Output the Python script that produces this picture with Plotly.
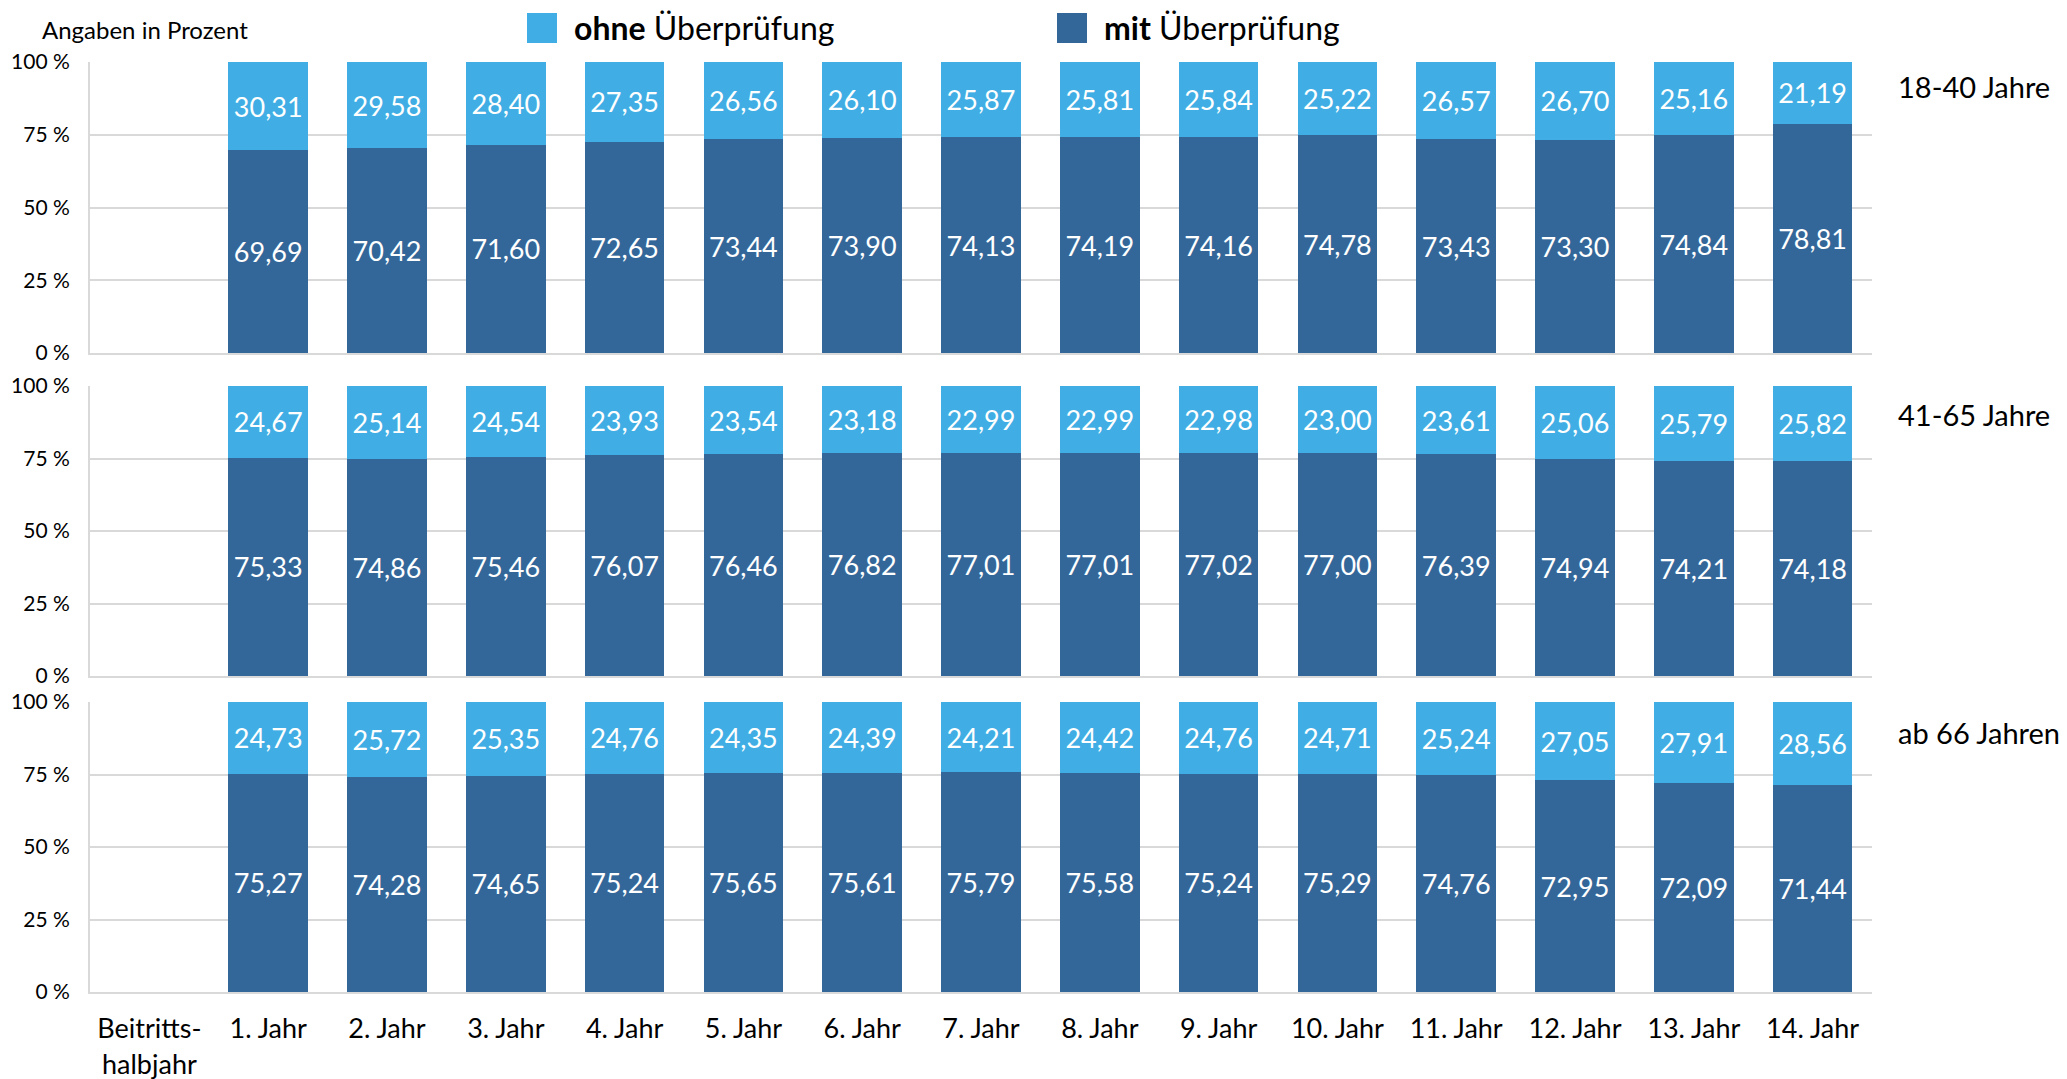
import plotly.graph_objects as go

categories = ["Beitritts-<br>halbjahr", "1. Jahr", "2. Jahr", "3. Jahr", "4. Jahr", "5. Jahr",
              "6. Jahr", "7. Jahr", "8. Jahr", "9. Jahr", "10. Jahr", "11. Jahr",
              "12. Jahr", "13. Jahr", "14. Jahr"]

ohne_18_40 = [None, 30.31, 29.58, 28.40, 27.35, 26.56, 26.10, 25.87, 25.81, 25.84, 25.22, 26.57, 26.70, 25.16, 21.19]
mit_18_40 = [None, 69.69, 70.42, 71.60, 72.65, 73.44, 73.90, 74.13, 74.19, 74.16, 74.78, 73.43, 73.30, 74.84, 78.81]

ohne_41_65 = [None, 24.67, 25.14, 24.54, 23.93, 23.54, 23.18, 22.99, 22.99, 22.98, 23.00, 23.61, 25.06, 25.79, 25.82]
mit_41_65 = [None, 75.33, 74.86, 75.46, 76.07, 76.46, 76.82, 77.01, 77.01, 77.02, 77.00, 76.39, 74.94, 74.21, 74.18]

ohne_66 = [None, 24.73, 25.72, 25.35, 24.76, 24.35, 24.39, 24.21, 24.42, 24.76, 24.71, 25.24, 27.05, 27.91, 28.56]
mit_66 = [None, 75.27, 74.28, 74.65, 75.24, 75.65, 75.61, 75.79, 75.58, 75.24, 75.29, 74.76, 72.95, 72.09, 71.44]

panel_labels = ["18-40 Jahre", "41-65 Jahre", "ab 66 Jahren"]
y_ticks = [0, 25, 50, 75, 100]
y_tick_labels = ["0 %", "25 %", "50 %", "75 %", "100 %"]

LIGHT = "#40AEE4"
DARK = "#346799"
GRID = "#D9D9D9"
FONT = "Lato"

W, H = 2067, 1079
L, R, T, B = 90, 1872, 62, 992  # plot area pixel bounds


def px_x(px):
    return (px - L) / (R - L)


def px_y(py):
    return (B - py) / (B - T)


panels = [(mit_18_40, ohne_18_40), (mit_41_65, ohne_41_65), (mit_66, ohne_66)]
pixel_domains = [(62, 353), (386, 676), (702, 992)]

fig = go.Figure()
for i, (mit, ohne) in enumerate(panels):
    suffix = "" if i == 0 else str(i + 1)
    for vals, col in ((mit, DARK), (ohne, LIGHT)):
        fig.add_trace(go.Bar(
            x=categories, y=vals, marker=dict(color=col, line=dict(width=0)),
            xaxis="x" + suffix, yaxis="y" + suffix,
            texttemplate="%{y:.2f}", textposition="inside", insidetextanchor="middle",
            textangle=0, constraintext="none",
            textfont=dict(family=FONT, size=27, color="white"),
            showlegend=False, hoverinfo="skip"))

layout = dict(
    width=W, height=H, barmode="stack", bargap=0.33,
    separators=",.",
    plot_bgcolor="white", paper_bgcolor="white",
    margin=dict(l=L, r=W - R, t=T, b=H - B, autoexpand=False),
    font=dict(family=FONT, color="black"),
    showlegend=False,
)

for i, (top, bot) in enumerate(pixel_domains):
    suffix = "" if i == 0 else str(i + 1)
    layout["xaxis" + suffix] = dict(
        domain=[0, 1], anchor="y" + suffix, type="category",
        categoryorder="array", categoryarray=categories,
        showticklabels=(i == 2), showgrid=False, zeroline=False,
        showline=True, linecolor=GRID, linewidth=2, ticks="",
        tickfont=dict(family=FONT, size=27, color="black"),
        ticklabelstandoff=12, automargin=False,
    )
    if i > 0:
        layout["xaxis" + suffix]["matches"] = "x"
    layout["yaxis" + suffix] = dict(
        domain=[px_y(bot), px_y(top)], anchor="x" + suffix,
        range=[0, 100], tickmode="array", tickvals=y_ticks, ticktext=y_tick_labels,
        showgrid=True, gridcolor=GRID, gridwidth=2, zeroline=False,
        showline=True, linecolor=GRID, linewidth=2, ticks="",
        tickfont=dict(family=FONT, size=21, color="black"),
        ticklabelstandoff=14, automargin=False,
    )

fig.update_layout(**layout)

label_y = [87, 414, 733]
for txt, py in zip(panel_labels, label_y):
    fig.add_annotation(text=txt, xref="paper", yref="paper", x=px_x(1896), y=px_y(py),
                       xanchor="left", yanchor="middle", showarrow=False,
                       font=dict(family=FONT, size=29, color="black"))

fig.add_annotation(text="Angaben in Prozent", xref="paper", yref="paper",
                   x=px_x(40), y=px_y(29), xanchor="left", yanchor="middle",
                   showarrow=False, font=dict(family=FONT, size=24, color="black"))

# legend
legend_items = [("<b>ohne</b> Überprüfung", LIGHT, 527), ("<b>mit</b> Überprüfung", DARK, 1057)]
for txt, col, sx in legend_items:
    fig.add_shape(type="rect", xref="paper", yref="paper",
                  x0=px_x(sx), x1=px_x(sx + 30), y0=px_y(43), y1=px_y(13),
                  fillcolor=col, line=dict(width=0))
    fig.add_annotation(text=txt, xref="paper", yref="paper", x=px_x(sx + 45), y=px_y(28),
                       xanchor="left", yanchor="middle", showarrow=False,
                       font=dict(family=FONT, size=32, color="black"))

fig.write_html("out.html", config={"displayModeBar": False},
               post_script="document.body.style.margin='0px';")
